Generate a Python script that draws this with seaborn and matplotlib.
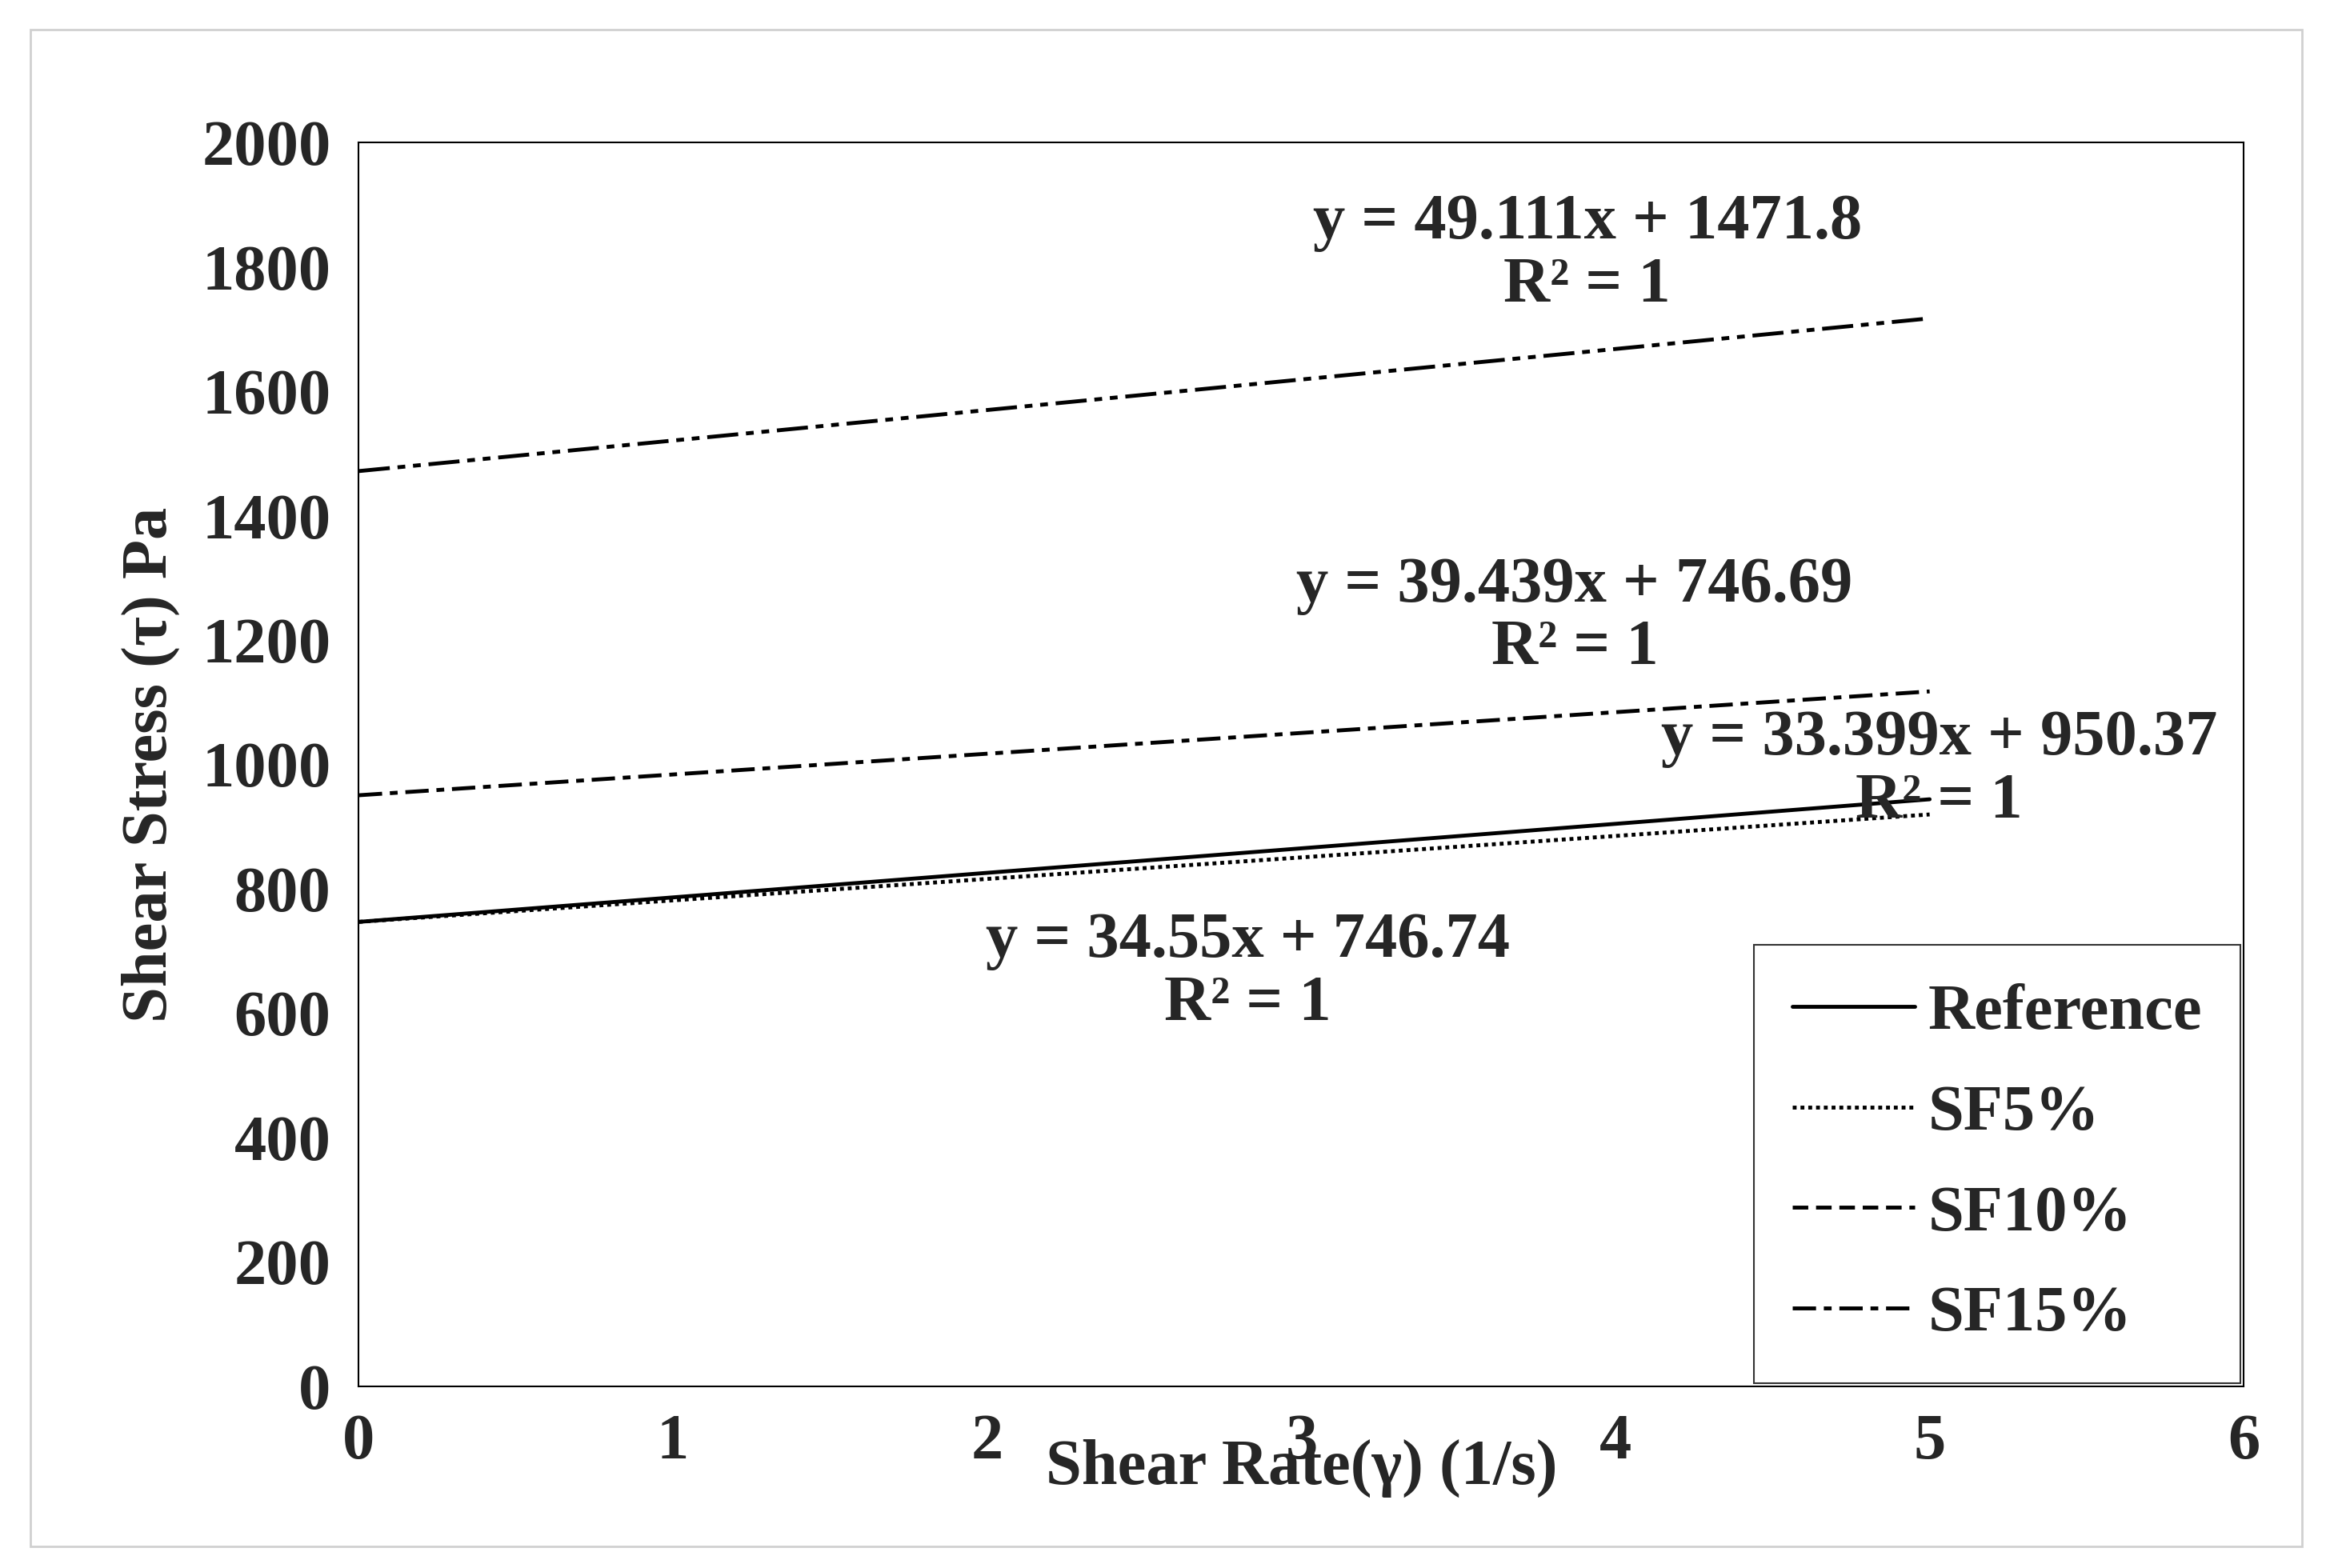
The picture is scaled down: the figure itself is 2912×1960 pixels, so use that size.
import matplotlib
matplotlib.use("Agg")
import matplotlib.pyplot as plt
import seaborn as sns
import pandas as pd

sns.set_theme(style="white")
plt.rcParams['font.family'] = ['Liberation Serif', 'DejaVu Serif']
plt.rcParams['font.weight'] = 'bold'

shear_rate = [0, 1, 2, 3, 4, 5]
reference = [746.7, 786.1, 825.6, 865.0, 904.4, 943.9]
sf5 = [746.7, 781.3, 815.8, 850.4, 884.9, 919.5]
sf10 = [950.4, 983.8, 1017.2, 1050.6, 1084.0, 1117.4]
sf15 = [1471.8, 1520.9, 1570.0, 1619.1, 1668.2, 1717.4]
series_names = ["Reference", "SF5%", "SF10%", "SF15%"]
equations = ["y = 49.111x + 1471.8\nR² = 1", "y = 39.439x + 746.69\nR² = 1",
             "y = 33.399x + 950.37\nR² = 1", "y = 34.55x + 746.74\nR² = 1"]

df = pd.DataFrame({"x": shear_rate * 4,
                   "y": reference + sf5 + sf10 + sf15,
                   "s": sum([[n] * 6 for n in series_names], [])})

FS = 58
fig = plt.figure(figsize=(29.12, 19.6), dpi=100)
ax = fig.add_axes([0.154, 0.116, 0.809, 0.793])
styles = {"Reference": "-", "SF5%": (0, (1, 1)), "SF10%": (0, (4, 2)), "SF15%": (0, (6, 2, 2, 2))}
plot_styles = {"Reference": "-", "SF5%": (0, (1, 1)), "SF10%": (0, (6, 2, 2, 2)), "SF15%": (0, (8, 2, 2, 2, 2, 2))}
for n in series_names:
    sub = df[df.s == n]
    sns.lineplot(data=sub, x="x", y="y", ax=ax, color="black", lw=3.5, linestyle=plot_styles[n], label=n)

ax.set_xlim(0, 6)
ax.set_ylim(0, 2000)
ax.set_xticks(range(0, 7))
ax.set_yticks(range(0, 2001, 200))
ax.tick_params(labelsize=FS, length=0, pad=25)
for l in ax.get_xticklabels() + ax.get_yticklabels():
    l.set_fontweight('bold')
ax.set_xlabel("Shear Rate(γ) (1/s)", fontsize=FS, fontweight='bold', labelpad=-30)
ax.set_ylabel("Shear Stress (τ) Pa", fontsize=FS, fontweight='bold', labelpad=20)
for s in ax.spines.values():
    s.set_color("black"); s.set_linewidth(1.5)

pos = [(3.91, 1820), (3.87, 1237), (5.03, 990), (2.83, 665)]
for (x, y), t in zip(pos, equations):
    ax.text(x, y, t, fontsize=FS, fontweight='bold', ha='center', va='center', linespacing=1.1)

leg = ax.legend(loc="lower right", fontsize=FS, frameon=True, fancybox=False,
                edgecolor="black", handlelength=1.9, borderpad=0.6, labelspacing=0.65,
                handletextpad=0.2, borderaxespad=0.05)
leg.get_frame().set_linewidth(1.5)
for h, n in zip(leg.get_lines(), series_names):
    h.set_linestyle(styles[n])
for t in leg.get_texts():
    t.set_fontweight('bold')

fig.patches.append(plt.Rectangle((0.013, 0.014), 0.975, 0.967, transform=fig.transFigure,
                                 fill=False, edgecolor="#d0d0d0", lw=2))
fig.savefig("out.png", dpi=100)
